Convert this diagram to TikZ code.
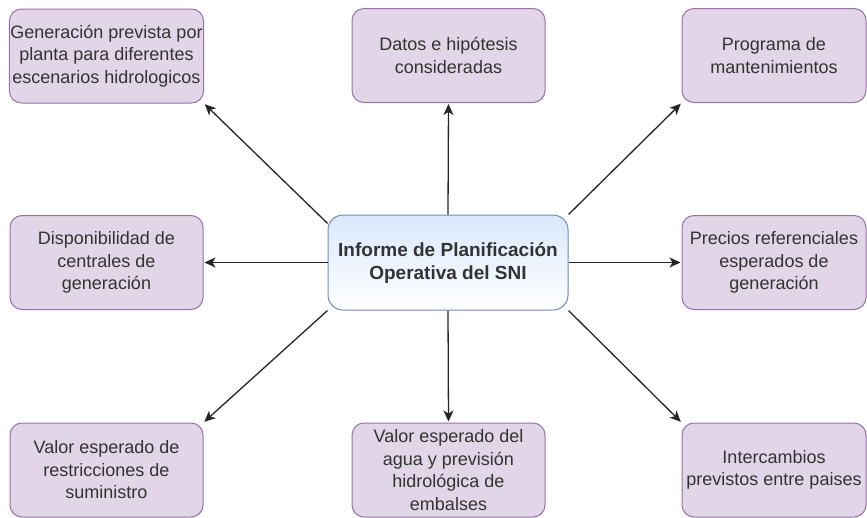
\documentclass[tikz,border=0pt]{standalone}
\usepackage{fontspec}
\setmainfont{Liberation Sans}
\usetikzlibrary{arrows.meta}

\definecolor{boxfill}{HTML}{E1D5E7}
\definecolor{boxline}{HTML}{9673A6}
\definecolor{hubfill}{HTML}{DAE8FC}
\definecolor{hubline}{HTML}{6C8EBF}
\definecolor{txt}{HTML}{333333}

\tikzset{
	box/.style={draw=boxline, fill=boxfill, rounded corners=12pt, line width=1pt,
		minimum width=193pt, minimum height=94pt, inner sep=1pt, align=center,
		text=txt, font=\fontsize{18pt}{22.5pt}\selectfont},
	hub/.style={box, draw=hubline, top color=hubfill, bottom color=white!97!hubfill,
		rounded corners=15pt, minimum width=240pt, minimum height=95pt,
		font=\bfseries\fontsize{19pt}{23pt}\selectfont},
	conn/.style={-{Stealth[length=11pt,width=10pt,inset=3pt]}, line width=1.3pt, draw=black!85, shorten >=1pt},
}

\begin{document}
\begin{tikzpicture}[x=1pt,y=-1pt]
	\clip (0,0) rectangle (867,517);
	\fill[white] (0,0) rectangle (867,517);
	\node[hub] (informe) at (448,262.5) {Informe de Planificación\\Operativa del SNI};
	% top row
	\node[box] (generacion) at (106.5,56) {Generación prevista por\\planta para diferentes\\escenarios hidrologicos};
	\node[box] (datos) at (448.5,55.5) {Datos e hipótesis\\consideradas};
	\node[box, minimum width=184pt] (mantenimiento) at (774,55.5) {Programa de\\mantenimientos};
	% middle row
	\node[box] (disponibilidad) at (106.5,262.5) {Disponibilidad de\\centrales de\\generación};
	\node[box, minimum width=184pt] (precios) at (774,262.5) {Precios referenciales\\esperados de\\generación};
	% bottom row
	\node[box] (restricciones) at (106.5,470) {Valor esperado de\\restricciones de\\suministro};
	\node[box] (agua) at (448.5,470) {Valor esperado del\\agua y previsión\\hidrológica de\\embalses};
	\node[box, minimum width=184pt] (intercambios) at (774,470) {Intercambios\\previstos entre paises};
	% connectors
	\draw[conn] (informe.162) -- (generacion.south east);
	\draw[conn] (informe.north) -- (datos.south);
	\draw[conn] (informe.north east) -- (mantenimiento.south west);
	\draw[conn] (informe.west) -- (disponibilidad.east);
	\draw[conn] (informe.east) -- (precios.west);
	\draw[conn] (informe.south west) -- (restricciones.north east);
	\draw[conn] (informe.south) -- (agua.north);
	\draw[conn] (informe.south east) -- (intercambios.north west);
\end{tikzpicture}
\end{document}
